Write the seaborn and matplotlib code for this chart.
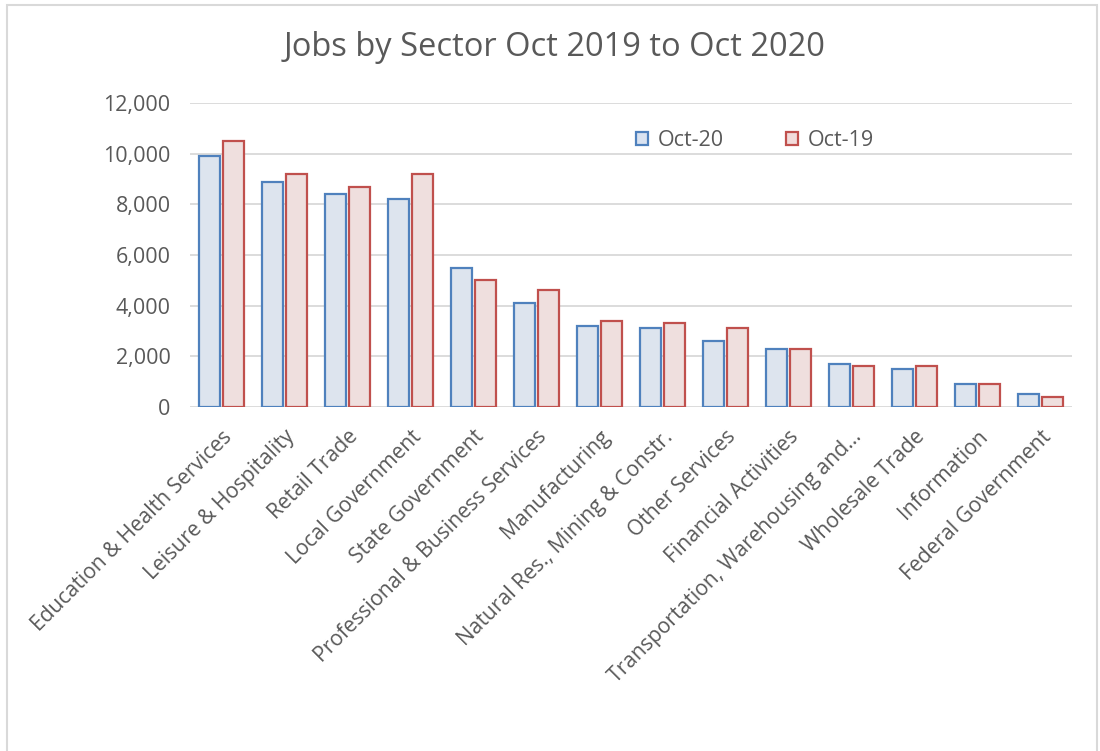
import matplotlib
matplotlib.use("Agg")
import matplotlib.pyplot as plt
from matplotlib.patches import Patch, Rectangle
from matplotlib.ticker import FuncFormatter
import seaborn as sns
import pandas as pd

sectors = [
    "Education & Health Services", "Leisure & Hospitality", "Retail Trade",
    "Local Government", "State Government", "Professional & Business Services",
    "Manufacturing", "Natural Res., Mining & Constr.", "Other Services",
    "Financial Activities", "Transportation, Warehousing and...",
    "Wholesale Trade", "Information", "Federal Government",
]
oct20 = [9900, 8900, 8400, 8200, 5500, 4100, 3200, 3100, 2600, 2300, 1700, 1500, 900, 500]
oct19 = [10500, 9200, 8700, 9200, 5000, 4600, 3400, 3300, 3100, 2300, 1600, 1600, 900, 400]
series = ["Oct-20", "Oct-19"]
yticks = [0, 2000, 4000, 6000, 8000, 10000, 12000]
title = "Jobs by Sector Oct 2019 to Oct 2020"

fills = {"Oct-20": "#DAE3F1", "Oct-19": "#F2DCDB"}
edges = {"Oct-20": "#4F81BD", "Oct-19": "#C0504D"}
txt = "#595959"

df = pd.DataFrame({
    "sector": sectors * 2,
    "jobs": oct20 + oct19,
    "period": [series[0]] * len(sectors) + [series[1]] * len(sectors),
})

sns.set_theme(style="white")
plt.rcParams["font.family"] = ["Open Sans", "DejaVu Sans"]

W, H = 1100, 751
fig = plt.figure(figsize=(W / 100, H / 100), dpi=100)
ax = fig.add_axes([190 / W, 1 - 407 / H, (1072 - 190) / W, (407 - 103) / H])

sns.barplot(data=df, x="sector", y="jobs", hue="period", hue_order=series,
            palette=fills, width=0.77, gap=0.11, ax=ax, legend=False,
            linewidth=1.6)
for cont, s in zip(ax.containers, series):
    for b in cont:
        b.set_edgecolor(edges[s])
        b.set_linewidth(1.6)
        b.set_zorder(3)

ax.set_ylim(0, 12000)
ax.set_yticks(yticks)
ax.yaxis.set_major_formatter(FuncFormatter(lambda v, p: f"{int(v):,}"))
ax.grid(axis="y", color="#D9D9D9", linewidth=1.3, zorder=0)
ax.set_axisbelow(True)
for sp in ax.spines.values():
    sp.set_visible(False)
ax.tick_params(axis="y", length=0, pad=14, labelsize=15.5, labelcolor=txt)
ax.tick_params(axis="x", length=0, pad=14, labelsize=15.2, labelcolor=txt)
ax.set_xlabel("")
ax.set_ylabel("")
plt.setp(ax.get_xticklabels(), rotation=45, ha="right", rotation_mode="anchor")

fig.text(555 / W, 1 - 48 / H, title, ha="center", va="center", fontsize=23.5, color=txt)

handles = [Patch(facecolor=fills[s], edgecolor=edges[s], linewidth=1.6) for s in series]
fig.legend(handles, series, loc="center left", bbox_to_anchor=(636 / W, 1 - 141 / H),
           ncol=2, frameon=False, fontsize=15.5, labelcolor=txt,
           handlelength=0.55, handleheight=0.55, handletextpad=0.45,
           columnspacing=2.9, borderpad=0, borderaxespad=0)

fig.patches.append(Rectangle((7 / W, -0.05), (1097 - 7) / W, 1.05 - 5 / H,
                             transform=fig.transFigure, fill=False,
                             edgecolor="#D9D9D9", linewidth=1.5))

fig.savefig("out.png", dpi=100)
